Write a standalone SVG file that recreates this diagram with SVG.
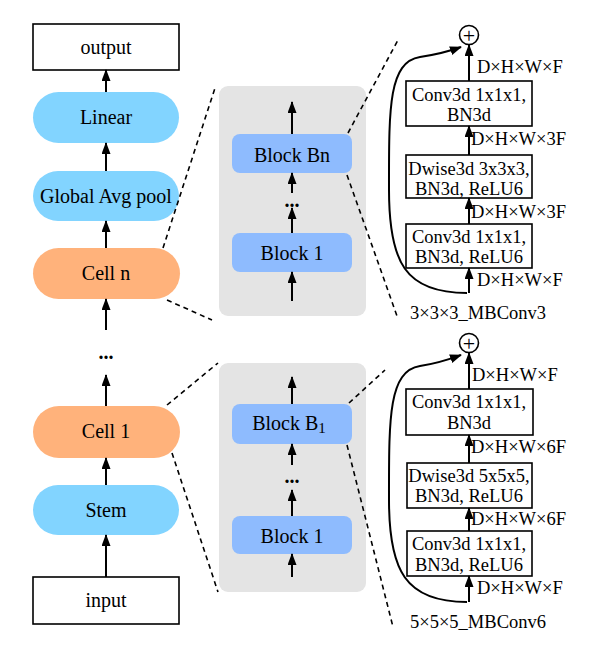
<svg xmlns="http://www.w3.org/2000/svg" width="609" height="671" viewBox="0 0 609 671">
<defs>
<marker id="ah" viewBox="0 0 12 9" markerWidth="12" markerHeight="9" refX="11" refY="4.5" orient="auto" markerUnits="userSpaceOnUse">
<path d="M0,0 L12,4.5 L0,9 z" fill="#000"/>
</marker>
</defs>
<style>
text{font-family:"Liberation Serif","Times New Roman",serif;fill:#000}
.t20{font-size:20px;text-anchor:middle;dominant-baseline:central}
.dots{font-size:20px;text-anchor:middle;dominant-baseline:central;font-weight:bold}
.t18{font-size:18.5px;text-anchor:middle;dominant-baseline:central}
.lab{font-size:18.5px;dominant-baseline:central}
.plus{font-size:22px;text-anchor:middle;dominant-baseline:central}
.box{fill:#fff;stroke:#000;stroke-width:1.6}
.pillb{fill:#82D4FF}
.pillo{fill:#FFB27B}
.blk{fill:#8EBBFE}
.panel{fill:#E4E4E4}
.ar{stroke:#000;stroke-width:2;fill:none;marker-end:url(#ah)}
.dash{stroke:#000;stroke-width:1.6;fill:none;stroke-dasharray:5,4}
.skip{stroke:#000;stroke-width:2;fill:none;marker-end:url(#ah)}
</style>

<g id="panel-top"><rect class="panel" x="219" y="86" width="147" height="230" rx="9"/></g>
<g id="panel-bottom"><rect class="panel" x="219" y="363" width="147" height="229" rx="9"/></g>

<g id="output"><rect class="box" x="33" y="24" width="146" height="46"/><text class="t20" x="106" y="47">output</text></g>
<g id="linear"><rect class="pillb" x="33" y="92" width="146" height="51" rx="25.5"/><text class="t20" x="106" y="117">Linear</text></g>
<g id="gap"><rect class="pillb" x="33" y="171" width="146" height="50" rx="25"/><text class="t20" x="106" y="196">Global Avg pool</text></g>
<g id="celln"><rect class="pillo" x="33" y="248" width="147" height="51" rx="25.5"/><text class="t20" x="106" y="273">Cell n</text></g>
<g id="dots-left"><text class="dots" x="106" y="352">...</text></g>
<g id="cell1"><rect class="pillo" x="33" y="406" width="147" height="52" rx="26"/><text class="t20" x="106" y="431">Cell 1</text></g>
<g id="stem"><rect class="pillb" x="33" y="485" width="146" height="50" rx="25"/><text class="t20" x="106" y="510">Stem</text></g>
<g id="input"><rect class="box" x="33" y="577" width="146" height="47"/><text class="t20" x="106" y="600">input</text></g>

<g id="blockbn"><rect class="blk" x="232" y="134" width="120" height="39" rx="8"/><text class="t20" x="292" y="155">Block Bn</text></g>
<g id="dots-mid-top"><text class="dots" x="292" y="200">...</text></g>
<g id="block1-top"><rect class="blk" x="232" y="233" width="120" height="39" rx="8"/><text class="t20" x="292" y="253">Block 1</text></g>
<g id="blockb1"><rect class="blk" x="232" y="404" width="120" height="40" rx="8"/><text class="t20" x="289" y="423">Block B<tspan font-size="15" dy="5">1</tspan></text></g>
<g id="dots-mid-bottom"><text class="dots" x="292" y="476">...</text></g>
<g id="block1-bottom"><rect class="blk" x="232" y="516" width="120" height="38" rx="8"/><text class="t20" x="292" y="536">Block 1</text></g>

<g id="mb3">
<circle cx="469" cy="35" r="9.5" fill="#fff" stroke="#000" stroke-width="1.6"/>
<text class="plus" x="469" y="35">+</text>
<rect class="box" x="406" y="81" width="126" height="45"/>
<text class="t18" x="469" y="95">Conv3d 1x1x1,</text><text class="t18" x="469" y="115">BN3d</text>
<rect class="box" x="406" y="155" width="126" height="43"/>
<text class="t18" x="469" y="169">Dwise3d 3x3x3,</text><text class="t18" x="469" y="189">BN3d, ReLU6</text>
<rect class="box" x="406" y="224" width="126" height="44"/>
<text class="t18" x="469" y="237">Conv3d 1x1x1,</text><text class="t18" x="469" y="257">BN3d, ReLU6</text>
<text class="lab" x="477" y="67">D×H×W×F</text>
<text class="lab" x="471" y="139">D×H×W×3F</text>
<text class="lab" x="471" y="212">D×H×W×3F</text>
<text class="lab" x="477" y="280">D×H×W×F</text>
<text class="lab" x="410" y="313">3×3×3_MBConv3</text>
</g>

<g id="mb6">
<circle cx="469" cy="343" r="9.5" fill="#fff" stroke="#000" stroke-width="1.6"/>
<text class="plus" x="469" y="343">+</text>
<rect class="box" x="406" y="389" width="127" height="46"/>
<text class="t18" x="469" y="402">Conv3d 1x1x1,</text><text class="t18" x="469" y="423">BN3d</text>
<rect class="box" x="407" y="463" width="125" height="45"/>
<text class="t18" x="469" y="476">Dwise3d 5x5x5,</text><text class="t18" x="469" y="496">BN3d, ReLU6</text>
<rect class="box" x="407" y="531" width="125" height="45"/>
<text class="t18" x="469" y="544">Conv3d 1x1x1,</text><text class="t18" x="469" y="565">BN3d, ReLU6</text>
<text class="lab" x="472" y="375">D×H×W×F</text>
<text class="lab" x="471" y="447">D×H×W×6F</text>
<text class="lab" x="471" y="519">D×H×W×6F</text>
<text class="lab" x="477" y="588">D×H×W×F</text>
<text class="lab" x="410" y="622">5×5×5_MBConv6</text>
</g>

<g id="connectors">
<line class="ar" x1="106" y1="92" x2="106" y2="70"/>
<line class="ar" x1="106" y1="171" x2="106" y2="143"/>
<line class="ar" x1="106" y1="248" x2="106" y2="221"/>
<line class="ar" x1="106" y1="330" x2="106" y2="299"/>
<line class="ar" x1="106" y1="406" x2="106" y2="375"/>
<line class="ar" x1="106" y1="485" x2="106" y2="458"/>
<line class="ar" x1="106" y1="577" x2="106" y2="535"/>

<line class="ar" x1="292" y1="134" x2="292" y2="102"/>
<line class="ar" x1="292" y1="193" x2="292" y2="173"/>
<line class="ar" x1="292" y1="233" x2="292" y2="208"/>
<line class="ar" x1="292" y1="301" x2="292" y2="272"/>
<line class="ar" x1="292" y1="404" x2="292" y2="377"/>
<line class="ar" x1="292" y1="465" x2="292" y2="444"/>
<line class="ar" x1="292" y1="516" x2="292" y2="490"/>
<line class="ar" x1="292" y1="577" x2="292" y2="554"/>

<line class="ar" x1="469" y1="81" x2="469" y2="45"/>
<line class="ar" x1="469" y1="155" x2="469" y2="126"/>
<line class="ar" x1="469" y1="224" x2="469" y2="198"/>
<line class="ar" x1="469" y1="293" x2="469" y2="268"/>
<path class="skip" d="M467,293 C405,293 389,262 389,190 C389,110 388,62 420,57 C440,54 450,51 461,47"/>

<line class="ar" x1="469" y1="389" x2="469" y2="353"/>
<line class="ar" x1="469" y1="463" x2="469" y2="435"/>
<line class="ar" x1="469" y1="531" x2="469" y2="508"/>
<line class="ar" x1="469" y1="602" x2="469" y2="576"/>
<path class="skip" d="M467,602 C405,602 389,570 389,500 C389,420 388,371 420,366 C440,363 450,359 461,355"/>

<line class="dash" x1="163" y1="248" x2="215" y2="88"/>
<line class="dash" x1="167" y1="300" x2="212" y2="320"/>
<line class="dash" x1="167" y1="405" x2="218" y2="363"/>
<line class="dash" x1="172" y1="453" x2="218" y2="592"/>
<line class="dash" x1="348" y1="133" x2="398" y2="40"/>
<line class="dash" x1="347" y1="175" x2="397" y2="316"/>
<line class="dash" x1="349" y1="403" x2="385" y2="370"/>
<line class="dash" x1="347" y1="445" x2="393" y2="627"/>
</g>
</svg>
